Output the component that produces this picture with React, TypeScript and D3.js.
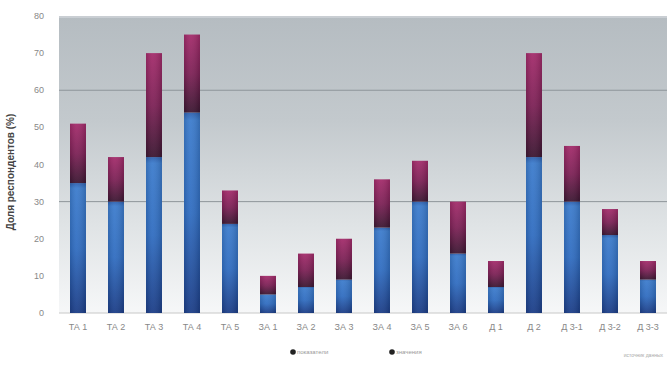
import React from "react";
import * as d3 from "d3";

const categories = ["ТА 1", "ТА 2", "ТА 3", "ТА 4", "ТА 5", "ЗА 1", "ЗА 2", "ЗА 3", "ЗА 4", "ЗА 5", "ЗА 6", "Д 1", "Д 2", "Д 3-1", "Д 3-2", "Д 3-3"];
const seriesBlue = [35, 30, 42, 54, 24, 5, 7, 9, 23, 30, 16, 7, 42, 30, 21, 9];
const seriesMagenta = [16, 12, 28, 21, 9, 5, 9, 11, 13, 11, 14, 7, 28, 15, 7, 5];
const yTicks = [0, 10, 20, 30, 40, 50, 60, 70, 80];
const gridValues = [30, 60];
const legendLabels = ["показатели", "значения"];

const W = 667, H = 365;
const M = { left: 59, right: 0, top: 16, bottom: 52 };

export default function App() {
  const x = d3.scaleBand<string>().domain(categories).range([M.left, W - M.right]).paddingInner(0.58).paddingOuter(0.29);
  const y = d3.scaleLinear().domain([0, 80]).range([H - M.bottom, M.top]);
  const font = "'Liberation Sans', Arial, sans-serif";
  return (
    <svg width={W} height={H} style={{ position: "absolute", left: 0, top: 0, background: "#fff" }}>
      <defs>
        <linearGradient id="bg" x1="0" y1="0" x2="0" y2="1">
          <stop offset="0" stopColor="#b5bcc1" />
          <stop offset="0.35" stopColor="#c3c9cd" />
          <stop offset="0.7" stopColor="#dfe3e5" />
          <stop offset="1" stopColor="#f6f7f8" />
        </linearGradient>
        <linearGradient id="blue" x1="0" y1="0" x2="0" y2="1">
          <stop offset="0" stopColor="#2c5fae" />
          <stop offset="0.04" stopColor="#3b7bcc" />
          <stop offset="0.5" stopColor="#2f6cc0" />
          <stop offset="1" stopColor="#1a3c86" />
        </linearGradient>
        <linearGradient id="mag" x1="0" y1="0" x2="0" y2="1">
          <stop offset="0" stopColor="#a32a6a" />
          <stop offset="0.5" stopColor="#7c2055" />
          <stop offset="1" stopColor="#3a1530" />
        </linearGradient>
        <linearGradient id="shade" x1="0" y1="0" x2="1" y2="0">
          <stop offset="0" stopColor="#000" stopOpacity="0.12" />
          <stop offset="0.4" stopColor="#fff" stopOpacity="0.06" />
          <stop offset="1" stopColor="#000" stopOpacity="0.15" />
        </linearGradient>
      </defs>
      <rect x={M.left} y={M.top} width={W - M.left - M.right} height={H - M.bottom - M.top} fill="url(#bg)" />
      <line x1={M.left} x2={W} y1={M.top + 1} y2={M.top + 1} stroke="#d0d5d8" strokeWidth={1.5} />
      {gridValues.map((v) => (
        <line key={v} x1={M.left} x2={W} y1={y(v)} y2={y(v)} stroke="#8e959a" strokeWidth={1} />
      ))}
      <line x1={M.left} x2={W} y1={y(0)} y2={y(0)} stroke="#c8c8c8" strokeWidth={1} />
      {yTicks.map((t) => (
        <text key={t} x={44} y={y(t) + 3} textAnchor="end" fontSize={9} fill="#888" fontFamily={font}>{t}</text>
      ))}
      {categories.map((c, i) => {
        const b = seriesBlue[i];
        const m = seriesMagenta[i];
        const bx = x(c)!;
        const bw = x.bandwidth();
        return (
          <g key={c}>
            <rect x={bx} y={y(b)} width={bw} height={y(0) - y(b)} fill="url(#blue)" />
            <rect x={bx} y={y(b + m)} width={bw} height={y(b) - y(b + m)} fill="url(#mag)" />
            <rect x={bx} y={y(b + m)} width={bw} height={y(0) - y(b + m)} fill="url(#shade)" />
            <text x={bx + bw / 2} y={330} textAnchor="middle" fontSize={9} fill="#888" fontFamily={font}>{c}</text>
          </g>
        );
      })}
      <text transform={`translate(14,${172}) rotate(-90)`} textAnchor="middle" fontSize={10} fontWeight="bold" fill="#444" fontFamily={font}>Доля респондентов (%)</text>
      {legendLabels.map((l, i) => (
        <g key={l} transform={`translate(${[293, 392][i]},352)`}>
          <circle r={2.8} fill="#222" />
          <text x={4} y={2} fontSize={6} fill="#999" fontFamily={font}>{l}</text>
        </g>
      ))}
      <text x={663} y={357} textAnchor="end" fontSize={5} fill="#aaa" fontFamily={font}>источник данных</text>
    </svg>
  );
}
